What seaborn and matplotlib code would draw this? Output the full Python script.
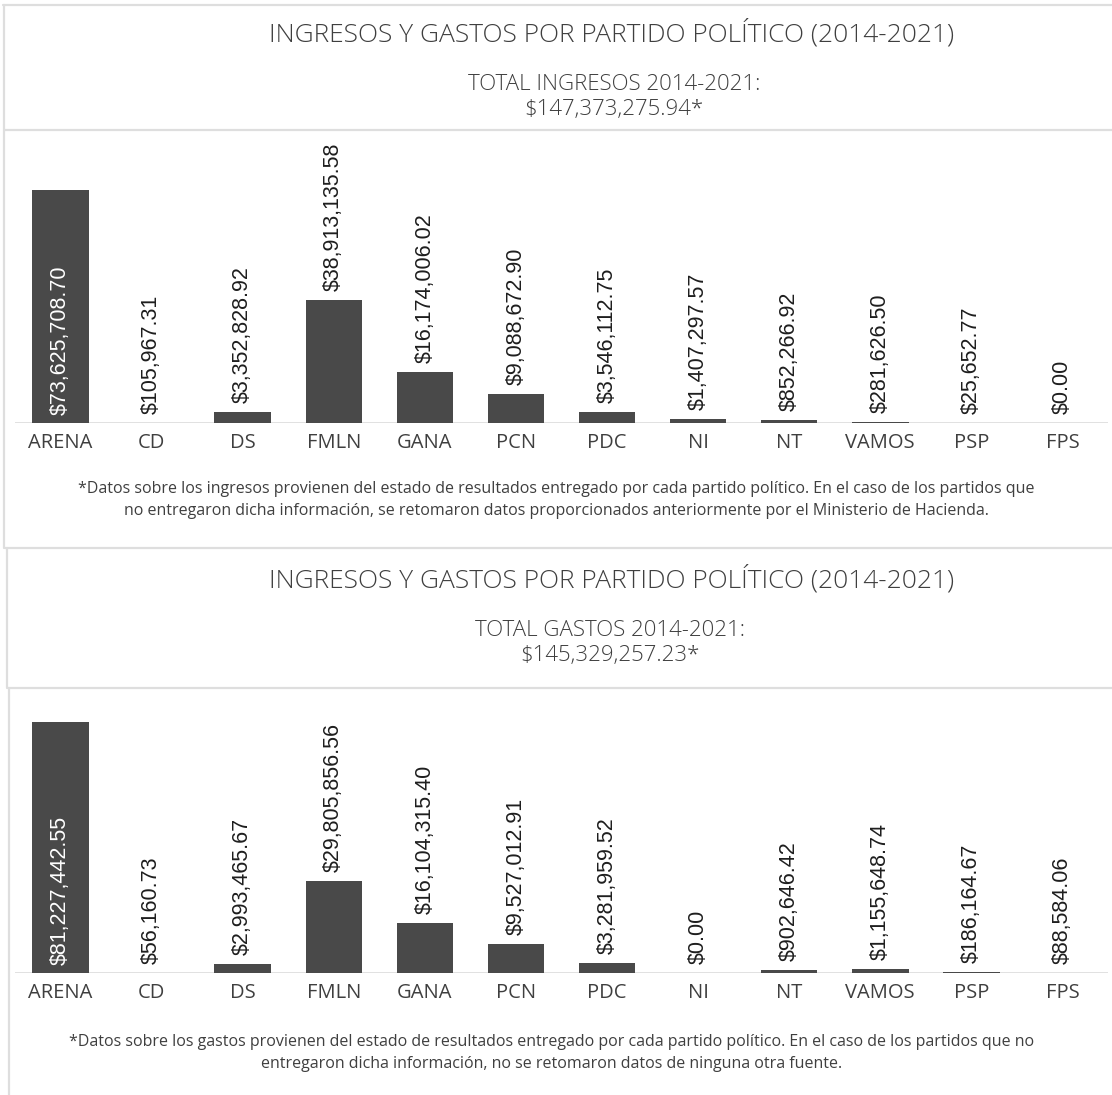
import matplotlib.pyplot as plt
import seaborn as sns
from matplotlib.lines import Line2D

# --- data -------------------------------------------------------------
partidos = ["ARENA", "CD", "DS", "FMLN", "GANA", "PCN", "PDC", "NI", "NT",
            "VAMOS", "PSP", "FPS"]
ingresos = [73625708.70, 105967.31, 3352828.92, 38913135.58, 16174006.02,
            9088672.90, 3546112.75, 1407297.57, 852266.92, 281626.50,
            25652.77, 0.00]
gastos = [81227442.55, 56160.73, 2993465.67, 29805856.56, 16104315.40,
          9527012.91, 3281959.52, 0.00, 902646.42, 1155648.74, 186164.67,
          88584.06]

titulo = "INGRESOS Y GASTOS POR PARTIDO POLÍTICO (2014-2021)"
sub_ingresos = "TOTAL INGRESOS 2014-2021:\n$147,373,275.94*"
sub_gastos = "TOTAL GASTOS 2014-2021:\n$145,329,257.23*"
nota_ingresos = ("*Datos sobre los ingresos provienen del estado de resultados entregado por cada "
                 "partido político. En el caso de los partidos que\nno entregaron dicha información, "
                 "se retomaron datos proporcionados anteriormente por el Ministerio de Hacienda.")
nota_gastos = ("*Datos sobre los gastos provienen del estado de resultados entregado por cada "
               "partido político. En el caso de los partidos que no\nentregaron dicha información, "
               "no se retomaron datos de ninguna otra fuente.")

BAR = "#494949"
TXT = "#3f3f3f"
BORDER = "#dedede"

sns.set_theme(style="white")
plt.rcParams["font.family"] = ["Open Sans", "DejaVu Sans"]

W, H = 1112, 1095
fig = plt.figure(figsize=(W / 100, H / 100), dpi=100)


def fx(x):
    return x / W


def fy(y):
    return 1 - y / H


def hline(y, x0=0, x1=W):
    fig.add_artist(Line2D([fx(x0), fx(x1)], [fy(y), fy(y)], color=BORDER,
                          lw=1.6, transform=fig.transFigure))


def vline(x, y0, y1):
    fig.add_artist(Line2D([fx(x), fx(x)], [fy(y0), fy(y1)], color=BORDER,
                          lw=1.6, transform=fig.transFigure))


def panel(values, top, base, headroom):
    ax = fig.add_axes([fx(15), fy(base), fx(1108) - fx(15), (base - top) / H])
    sns.barplot(x=partidos, y=values, color=BAR, saturation=1, width=0.62,
                linewidth=0, ax=ax, zorder=2)
    ax.set_xlim(-0.5, len(partidos) - 0.5)
    ax.set_ylim(0, max(values) * headroom)
    ax.axhline(0, color="#dcdcdc", lw=1.2, zorder=1)
    for s in ax.spines.values():
        s.set_visible(False)
    ax.set_yticks([])
    ax.set_xlabel("")
    ax.set_ylabel("")
    ax.tick_params(axis="x", length=0, pad=7, labelsize=14.5, labelcolor=TXT)
    vmax = max(values)
    for i, v in enumerate(values):
        lab = f"${v:,.2f}"
        if v == vmax:
            ax.annotate(lab, (i, 0), xytext=(0, 6), textcoords="offset points",
                        rotation=90, ha="center", va="bottom", color="white",
                        fontsize=15.5, family="Liberation Sans")
        else:
            ax.annotate(lab, (i, v), xytext=(0, 6.5), textcoords="offset points",
                        rotation=90, ha="center", va="bottom", color="#1e1e1e",
                        fontsize=15.5, family="Liberation Sans")
    return ax


# --- panel 1: ingresos --------------------------------------------------
hline(5, 3)
hline(130, 5)
vline(4, 5, 548)
fig.text(fx(612), fy(33), titulo, ha="center", va="center", fontsize=19,
         color=TXT, fontweight="light")
fig.text(fx(614), fy(97), sub_ingresos, ha="center", va="center", fontsize=16,
         color=TXT, linespacing=1.2, fontweight="light")
panel(ingresos, 148, 423, 275 / 233)
fig.text(fx(556), fy(500), nota_ingresos, ha="center", va="center",
         fontsize=11.5, color=TXT, linespacing=1.45)

# --- panel 2: gastos ----------------------------------------------------
hline(548, 5)
hline(688, 8)
vline(7, 548, 688)
vline(9, 688, H)
fig.text(fx(612), fy(579), titulo, ha="center", va="center", fontsize=19,
         color=TXT, fontweight="light")
fig.text(fx(610), fy(643), sub_gastos, ha="center", va="center", fontsize=16,
         color=TXT, linespacing=1.2, fontweight="light")
panel(gastos, 698, 973, 275 / 251)
fig.text(fx(552), fy(1053), nota_gastos, ha="center", va="center",
         fontsize=11.5, color=TXT, linespacing=1.45)

fig.savefig("out.png", dpi=100)
